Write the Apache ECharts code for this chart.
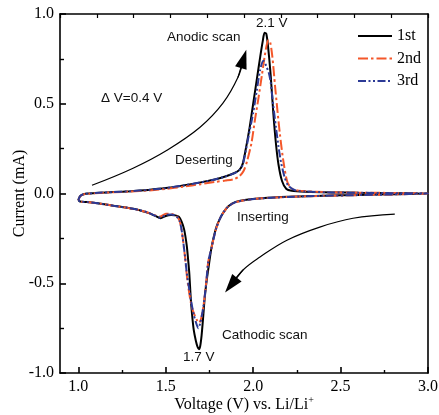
<!DOCTYPE html>
<html><head><meta charset="utf-8">
<script src="https://cdn.jsdelivr.net/npm/echarts@6/dist/echarts.min.js"></script>
<style>html,body{margin:0;padding:0;background:#fff}#c{width:439px;height:415px}</style>
</head><body><div id="c"></div>
<script>
const seriesNames = ['1st', '2nd', '3rd'];
const xTickValues = [1.0, 1.5, 2.0, 2.5, 3.0];
const xMinorTickValues = [1.25, 1.75, 2.25, 2.75];
const yTickInterval = 0.5;

// Cycle 1 (black), anodic branch then cathodic branch: [voltage, current]
const cycle1Anodic = [[1.00,-0.037],[1.01,-0.015],[1.03,-0.004],[1.06,0.000],[1.12,0.004],[1.20,0.008],[1.30,0.013],[1.40,0.020],[1.50,0.030],[1.60,0.045],[1.70,0.062],[1.78,0.078],[1.84,0.095],[1.89,0.113],[1.92,0.130],[1.94,0.165],[1.96,0.260],[1.98,0.370],[2.00,0.500],[2.02,0.630],[2.04,0.760],[2.055,0.850],[2.065,0.895],[2.075,0.890],[2.085,0.820],[2.10,0.660],[2.115,0.450],[2.13,0.280],[2.145,0.160],[2.165,0.070],[2.19,0.025],[2.22,0.015],[2.30,0.010],[2.45,0.006],[2.60,0.004],[2.80,0.002],[3.00,0.000]];
const cycle1Cathodic = [[2.80,-0.004],[2.60,-0.008],[2.40,-0.012],[2.20,-0.018],[2.05,-0.026],[1.95,-0.036],[1.90,-0.047],[1.86,-0.070],[1.83,-0.105],[1.81,-0.140],[1.79,-0.185],[1.775,-0.240],[1.76,-0.310],[1.745,-0.410],[1.732,-0.500],[1.722,-0.590],[1.713,-0.700],[1.705,-0.790],[1.697,-0.850],[1.69,-0.868],[1.682,-0.855],[1.672,-0.820],[1.66,-0.760],[1.65,-0.670],[1.642,-0.570],[1.635,-0.450],[1.628,-0.370],[1.62,-0.290],[1.605,-0.200],[1.59,-0.155],[1.575,-0.130],[1.555,-0.122],[1.53,-0.120],[1.50,-0.125],[1.47,-0.138],[1.44,-0.125],[1.40,-0.108],[1.35,-0.093],[1.28,-0.080],[1.20,-0.068],[1.12,-0.056],[1.05,-0.048],[1.01,-0.045],[1.00,-0.037]];

// Cycle 2 (orange)
const cycle2Anodic = [[1.00,-0.037],[1.01,-0.016],[1.03,-0.005],[1.06,-0.001],[1.12,0.003],[1.20,0.007],[1.30,0.011],[1.40,0.017],[1.50,0.026],[1.60,0.038],[1.70,0.052],[1.78,0.064],[1.84,0.072],[1.89,0.080],[1.92,0.095],[1.945,0.125],[1.965,0.180],[1.99,0.280],[2.01,0.410],[2.03,0.530],[2.05,0.660],[2.065,0.760],[2.078,0.830],[2.088,0.855],[2.098,0.840],[2.11,0.760],[2.125,0.600],[2.14,0.450],[2.153,0.330],[2.172,0.185],[2.195,0.065],[2.22,0.028],[2.26,0.016],[2.35,0.010],[2.50,0.006],[2.70,0.004],[2.90,0.002],[3.00,0.000]];
const cycle2Cathodic = [[2.80,-0.005],[2.60,-0.009],[2.40,-0.013],[2.20,-0.019],[2.05,-0.027],[1.95,-0.037],[1.90,-0.048],[1.86,-0.070],[1.83,-0.105],[1.81,-0.140],[1.79,-0.190],[1.775,-0.245],[1.76,-0.310],[1.743,-0.380],[1.733,-0.480],[1.722,-0.580],[1.712,-0.650],[1.70,-0.705],[1.69,-0.720],[1.678,-0.705],[1.662,-0.670],[1.648,-0.630],[1.635,-0.560],[1.622,-0.470],[1.612,-0.370],[1.60,-0.270],[1.59,-0.200],[1.578,-0.150],[1.56,-0.124],[1.53,-0.114],[1.50,-0.113],[1.47,-0.128],[1.44,-0.122],[1.40,-0.107],[1.35,-0.093],[1.28,-0.080],[1.20,-0.068],[1.12,-0.056],[1.05,-0.048],[1.01,-0.045],[1.00,-0.037]];

// Cycle 3 (blue)
const cycle3Anodic = [[1.00,-0.037],[1.01,-0.015],[1.03,-0.004],[1.06,0.000],[1.12,0.004],[1.20,0.008],[1.30,0.013],[1.40,0.020],[1.50,0.030],[1.60,0.045],[1.70,0.062],[1.78,0.078],[1.84,0.094],[1.89,0.112],[1.92,0.128],[1.94,0.160],[1.96,0.250],[1.98,0.350],[2.00,0.450],[2.02,0.570],[2.04,0.690],[2.058,0.740],[2.075,0.710],[2.09,0.670],[2.10,0.620],[2.115,0.490],[2.13,0.370],[2.145,0.260],[2.16,0.170],[2.18,0.090],[2.20,0.045],[2.24,0.018],[2.30,0.011],[2.45,0.006],[2.60,0.004],[2.80,0.002],[3.00,0.000]];
const cycle3Cathodic = [[2.80,-0.005],[2.60,-0.009],[2.40,-0.013],[2.20,-0.019],[2.05,-0.027],[1.95,-0.037],[1.90,-0.048],[1.86,-0.070],[1.83,-0.105],[1.81,-0.140],[1.79,-0.190],[1.775,-0.245],[1.76,-0.310],[1.743,-0.380],[1.733,-0.480],[1.722,-0.580],[1.71,-0.660],[1.698,-0.720],[1.686,-0.750],[1.675,-0.725],[1.66,-0.675],[1.645,-0.600],[1.632,-0.520],[1.62,-0.440],[1.61,-0.350],[1.60,-0.270],[1.59,-0.200],[1.578,-0.150],[1.56,-0.126],[1.53,-0.117],[1.50,-0.120],[1.47,-0.135],[1.44,-0.124],[1.40,-0.107],[1.35,-0.093],[1.28,-0.080],[1.20,-0.068],[1.12,-0.056],[1.05,-0.048],[1.01,-0.045],[1.00,-0.037]];

// Annotation arrow paths (data coordinates); last two points give the arrowhead direction
const anodicArrowPath = [[1.078,0.046],[1.313,0.141],[1.507,0.241],[1.696,0.369],[1.827,0.503],[1.913,0.647],[1.945,0.75]];
const cathodicArrowPath = [[2.81,-0.115],[2.571,-0.138],[2.381,-0.187],[2.193,-0.260],[2.039,-0.354],[1.942,-0.426],[1.873,-0.51]];

const serif = 'Liberation Serif';
const chart = echarts.init(document.getElementById('c'), null, {renderer: 'canvas'});

function arrowSeries(path) {
  const n = path.length;
  return {
    type: 'line', symbol: 'none', smooth: 0.4, silent: true, z: 1,
    data: path, lineStyle: {color: '#000', width: 1.2}, tooltip: {show: false},
    markLine: {
      silent: true, animation: false, label: {show: false}, emphasis: {disabled: true},
      symbol: ['none', 'triangle'], symbolSize: [12, 19],
      lineStyle: {color: '#000', width: 1.2, type: 'solid'}, itemStyle: {color: '#000'},
      data: [[{coord: path[n - 2]}, {coord: path[n - 1]}]]
    }
  };
}

const txt = (t, x, y) => ({type: 'text', left: x, top: y - 8, style: {text: t, font: '13.5px "Liberation Sans"', fill: '#111'}});

chart.setOption({
  animation: false,
  backgroundColor: '#fff',
  grid: {left: 60, right: 11, top: 14, bottom: 42, containLabel: false, outerBoundsMode: 'none'},
  legend: {
    data: seriesNames, orient: 'vertical', left: 352, top: 23,
    itemWidth: 34, itemHeight: 14, itemGap: 6.5,
    itemStyle: {opacity: 0},
    textStyle: {fontFamily: serif, fontSize: 16, color: '#000'}
  },
  xAxis: [
    {type: 'value', min: 0.895, max: 3.0, position: 'bottom',
     axisLine: {show: true, onZero: false, lineStyle: {color: '#000', width: 1.6}},
     axisTick: {show: true, inside: true, length: 6, customValues: xTickValues, lineStyle: {color: '#000', width: 1.6}},
     axisLabel: {customValues: xTickValues, formatter: v => v.toFixed(1), fontFamily: serif, fontSize: 16, color: '#000', margin: 6},
     splitLine: {show: false},
     name: 'Voltage (V) vs. Li/Li{sup|+}', nameLocation: 'middle', nameGap: 22, nameMoveOverlap: false,
     nameTextStyle: {fontFamily: serif, fontSize: 16, color: '#000', rich: {sup: {fontFamily: serif, fontSize: 10, verticalAlign: 'top', padding: [0, 0, 10, 0]}}}
    },
    {type: 'value', min: 0.895, max: 3.0, position: 'bottom',
     axisLine: {show: false, onZero: false}, axisLabel: {show: false}, splitLine: {show: false},
     axisTick: {show: true, inside: true, length: 3, customValues: xMinorTickValues, lineStyle: {color: '#000', width: 1.4}}
    },
    {type: 'value', min: 0, max: 10, interval: 1, position: 'top',
     axisLine: {show: true, onZero: false, lineStyle: {color: '#000', width: 1.6}},
     axisTick: {show: true, inside: true, length: 4, lineStyle: {color: '#000', width: 1.2}},
     axisLabel: {show: false}, splitLine: {show: false}
    }
  ],
  yAxis: [
    {type: 'value', min: -1.0, max: 1.0, interval: yTickInterval, position: 'left',
     axisLine: {show: true, onZero: false, lineStyle: {color: '#000', width: 1.6}},
     axisTick: {show: true, inside: true, length: 6, lineStyle: {color: '#000', width: 1.6}},
     minorTick: {show: true, splitNumber: 2, length: 4, lineStyle: {color: '#000', width: 1.4}},
     axisLabel: {formatter: v => v.toFixed(1), fontFamily: serif, fontSize: 16, color: '#000', margin: 6},
     splitLine: {show: false},
     name: 'Current (mA)', nameLocation: 'middle', nameGap: 32, nameMoveOverlap: false,
     nameTextStyle: {fontFamily: serif, fontSize: 16, color: '#000'}
    },
    {type: 'value', min: -1.0, max: 1.0, position: 'right',
     axisLine: {show: true, onZero: false, lineStyle: {color: '#000', width: 1.6}},
     axisTick: {show: false}, axisLabel: {show: false}, splitLine: {show: false}
    }
  ],
  series: [
    {name: '1st', type: 'line', symbol: 'none', smooth: 0.25, z: 2,
     data: cycle1Anodic.concat(cycle1Cathodic),
     lineStyle: {color: '#000', width: 2}, itemStyle: {color: '#000'}
    },
    {name: '2nd', type: 'line', symbol: 'none', smooth: 0.25, z: 3,
     data: cycle2Anodic.concat(cycle2Cathodic),
     lineStyle: {color: '#f4572a', width: 2, type: [10, 3, 2.5, 3]}, itemStyle: {color: '#f4572a'}
    },
    {name: '3rd', type: 'line', symbol: 'none', smooth: 0.25, z: 4,
     data: cycle3Anodic.concat(cycle3Cathodic),
     lineStyle: {color: '#2c3a96', width: 2, type: [8, 2.5, 2, 2.5, 2, 2.5]}, itemStyle: {color: '#2c3a96'}
    },
    arrowSeries(anodicArrowPath),
    arrowSeries(cathodicArrowPath)
  ],
  graphic: [
    txt('Anodic scan', 167, 38),
    txt('2.1 V', 256, 24),
    txt('\u0394 V=0.4 V', 101, 99),
    txt('Deserting', 175, 161),
    txt('Inserting', 237, 218),
    txt('Cathodic scan', 222, 336),
    txt('1.7 V', 183, 358)
  ]
});
</script>
</body></html>
